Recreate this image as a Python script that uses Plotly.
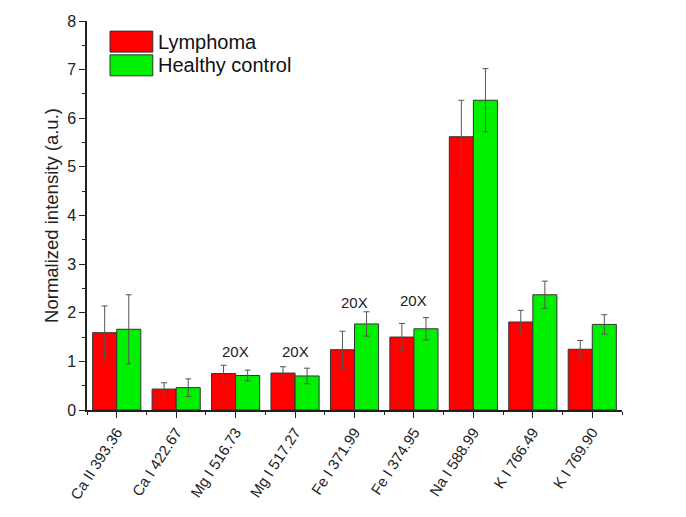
"""Normalized emission line intensities: lymphoma vs healthy control."""

import plotly.graph_objects as go

lines = [
    "Ca II 393.36", "Ca I 422.67", "Mg I 516.73", "Mg I 517.27",
    "Fe I 371.99", "Fe I 374.95", "Na I 588.99", "K I 766.49", "K I 769.90",
]
lymphoma = [1.59, 0.43, 0.75, 0.76, 1.24, 1.50, 5.62, 1.81, 1.25]
lymphoma_err = [0.55, 0.13, 0.17, 0.13, 0.38, 0.28, 0.75, 0.24, 0.18]
healthy = [1.66, 0.46, 0.71, 0.70, 1.77, 1.67, 6.37, 2.37, 1.76]
healthy_err = [0.71, 0.18, 0.11, 0.16, 0.25, 0.23, 0.65, 0.28, 0.20]

# lines whose intensities were scaled up 20x
scaled = {"Mg I 516.73": 1.2, "Mg I 517.27": 1.2, "Fe I 371.99": 2.22, "Fe I 374.95": 2.26}

RED = "#ff0000"
GREEN = "#00f000"
FONT = "Liberation Sans, Arial, sans-serif"

xpos = list(range(len(lines)))

fig = go.Figure()
for name, vals, errs, color in [
    ("Lymphoma", lymphoma, lymphoma_err, RED),
    ("Healthy control", healthy, healthy_err, GREEN),
]:
    fig.add_trace(go.Bar(
        x=xpos,
        y=vals,
        name=name,
        marker=dict(color=color, line=dict(color="#333333", width=1)),
        error_y=dict(type="data", array=errs, color="#555555", thickness=1, width=3),
    ))

for label, ypos in scaled.items():
    fig.add_annotation(
        x=lines.index(label), y=ypos, text="20X", showarrow=False,
        font=dict(family=FONT, size=15, color="#222222"),
    )

# custom legend with large swatches
for i, (name, color) in enumerate([("Lymphoma", RED), ("Healthy control", GREEN)]):
    y0 = 0.974 - i * 0.061
    fig.add_shape(
        type="rect", xref="paper", yref="paper",
        x0=0.043, x1=0.123, y0=y0 - 0.054, y1=y0,
        fillcolor=color, line=dict(color="#333333", width=1),
    )
    fig.add_annotation(
        xref="paper", yref="paper", x=0.129, y=y0 - 0.027,
        text=name, showarrow=False, xanchor="left", yanchor="middle",
        font=dict(family=FONT, size=20, color="#111111"),
    )

# the page body adds an 8px offset, so margins are shifted by that amount
fig.update_layout(
    width=686,
    height=517,
    margin=dict(l=79, r=72, t=13, b=115, autoexpand=False),
    paper_bgcolor="white",
    plot_bgcolor="white",
    barmode="group",
    bargap=0.19,
    bargroupgap=0,
    showlegend=False,
    font=dict(family=FONT, size=14, color="#222222"),
)
fig.update_xaxes(
    automargin=False,
    range=[-0.5, len(lines) - 0.5],
    tickvals=xpos,
    ticktext=lines,
    tickangle=-57,
    ticks="outside",
    ticklen=6,
    tickcolor="#222222",
    minor=dict(tick0=0.5, dtick=1, ticks="outside", ticklen=3, tickcolor="#222222"),
    showline=True,
    linecolor="#222222",
    linewidth=1.5,
    showgrid=False,
    zeroline=False,
    tickfont=dict(size=15),
)
fig.update_yaxes(
    automargin=False,
    range=[0, 8],
    dtick=1,
    ticks="outside",
    ticklen=6,
    tickcolor="#222222",
    minor=dict(dtick=0.5, ticks="outside", ticklen=3, tickcolor="#222222"),
    showline=True,
    linecolor="#222222",
    linewidth=1.5,
    showgrid=False,
    zeroline=False,
    title=dict(text="Normalized intensity (a.u.)", font=dict(size=18.5), standoff=4),
    tickfont=dict(size=16),
)

fig.write_html("out.html")
